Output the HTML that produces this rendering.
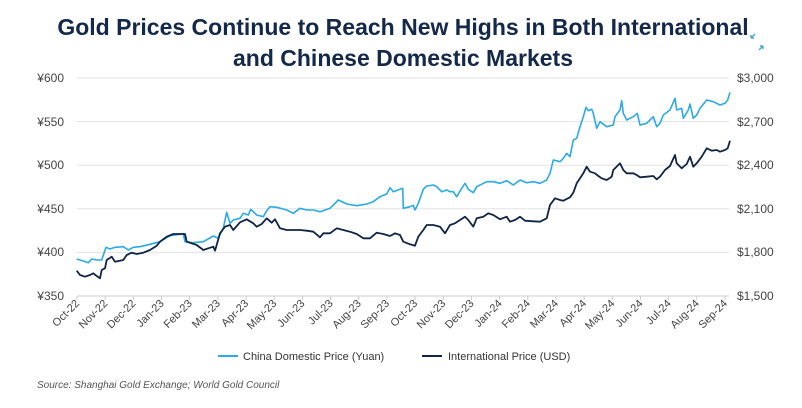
<!DOCTYPE html>
<html><head><meta charset="utf-8"><style>
body{margin:0;background:#fff;width:802px;height:403px;overflow:hidden;font-family:"Liberation Sans",sans-serif}
</style></head><body>
<svg width="802" height="403" xmlns="http://www.w3.org/2000/svg" font-family="Liberation Sans, sans-serif">
<text x="403" y="35" text-anchor="middle" font-size="23" font-weight="bold" fill="#14294a">Gold Prices Continue to Reach New Highs in Both International</text>
<text x="403" y="66" text-anchor="middle" font-size="23" font-weight="bold" fill="#14294a">and Chinese Domestic Markets</text>
<g stroke="#4aa8dc" stroke-width="1.5" fill="none"><path d="M751 38l4-4M751 38v-3M751 38h3M763 46l-4 4M763 46v3M763 46h-3" transform="translate(0,0)"/></g>
<g stroke="#e3e3e6" stroke-width="1">
<line x1="77" x2="729" y1="78" y2="78"/><line x1="77" x2="729" y1="121.6" y2="121.6"/><line x1="77" x2="729" y1="165.2" y2="165.2"/><line x1="77" x2="729" y1="208.8" y2="208.8"/><line x1="77" x2="729" y1="252.4" y2="252.4"/>
</g>
<line x1="77" x2="729" y1="296" y2="296" stroke="#ccc"/>
<g font-size="12" fill="#444" text-anchor="end">
<text x="64" y="82">¥600</text><text x="64" y="126">¥550</text><text x="64" y="169">¥500</text><text x="64" y="213">¥450</text><text x="64" y="256">¥400</text><text x="64" y="300">¥350</text>
</g>
<g font-size="12" fill="#444">
<text x="737" y="82">$3,000</text><text x="737" y="126">$2,700</text><text x="737" y="169">$2,400</text><text x="737" y="213">$2,100</text><text x="737" y="256">$1,800</text><text x="737" y="300">$1,500</text>
</g>
<g id="xt"></g>
<polyline id="lb" fill="none" stroke="#2aaae6" stroke-width="1.6" stroke-linejoin="round"/>
<polyline id="dk" fill="none" stroke="#0f2544" stroke-width="1.8" stroke-linejoin="round"/>
<line x1="218" x2="238" y1="356" y2="356" stroke="#2aaae6" stroke-width="2"/>
<text x="243" y="360" font-size="11" fill="#333">China Domestic Price (Yuan)</text>
<line x1="422" x2="442" y1="356" y2="356" stroke="#0f2544" stroke-width="2"/>
<text x="448" y="360" font-size="11" fill="#333">International Price (USD)</text>
<text x="37" y="388" font-size="10" font-style="italic" fill="#555">Source: Shanghai Gold Exchange; World Gold Council</text>
</svg>
<script>
var L1=[230,597,250,603,265,608,275,597,290,600,305,600,318,562,330,567,345,562,370,560,385,570,400,562,420,560,450,553,480,545,510,527,550,521,555,545,580,548,610,545,640,528,655,535,670,505,680,457,690,490,700,480,720,475,730,460,745,465,752,448,770,465,790,470,800,452,810,440,830,442,860,450,880,460,900,445,920,450,940,450,960,455,990,445,1015,420,1040,432,1070,437,1100,432,1120,425,1140,410,1160,402,1170,383,1180,395,1200,388];
var L2=[8,385,10,445,30,440,40,436,45,450,55,430,70,388,80,378,100,375,110,380,125,395,140,390,150,395,160,395,170,410,185,385,195,370,205,388,220,398,230,380,260,365,280,365,300,370,320,362,340,375,360,360,380,368,400,365,420,370,440,360,450,340,460,300,480,305,490,295,500,280,510,290,520,240,530,235,540,200,550,170,558,142,565,152,575,148,580,160,590,205,600,185,620,200,640,195,645,170,660,150,665,122,670,160,680,180,700,170,712,160,720,195,740,190,760,170,770,200,780,190,790,165,810,150,825,115,830,150,845,145,850,175,865,150,870,132,880,175,890,165,900,145,920,120,940,125,960,135,975,130,983,120,990,97];
var D1=[230,632,240,645,255,650,270,645,280,640,290,648,300,655,305,630,315,625,320,600,335,590,345,605,370,600,380,585,395,578,410,582,430,578,450,570,470,557,480,545,500,530,520,522,555,522,560,545,590,555,610,570,625,565,640,560,645,572,660,520,675,500,690,495,700,510,720,487,740,478,760,490,770,500,785,492,800,475,815,488,825,478,840,505,860,510,900,510,920,512,940,515,960,532,970,520,990,520,1010,505,1030,510,1050,515,1070,522,1090,535,1110,535,1130,518,1150,522,1170,528,1185,520,1200,525];
var D2=[10,545,30,553,45,557,55,530,70,510,80,495,100,495,120,500,135,520,150,495,165,490,180,480,195,470,205,480,220,500,230,475,250,470,265,460,280,465,300,478,320,470,330,485,345,480,360,470,375,482,400,484,420,485,440,475,450,435,465,415,480,420,490,422,510,412,520,398,530,370,550,340,560,320,570,335,585,340,595,348,605,355,620,360,635,350,640,330,660,310,670,330,680,340,700,340,710,345,720,352,740,350,760,348,770,358,780,350,795,330,810,318,825,285,830,310,845,325,860,312,870,290,880,320,890,310,905,290,920,265,935,272,950,270,960,275,975,270,983,265,990,242];
function pts(a,ox){var s=[];for(var i=0;i<a.length;i+=2)s.push((ox+a[i]/3).toFixed(1)+","+(60+a[i+1]/3).toFixed(1));return s.join(" ");}
document.getElementById('lb').setAttribute('points',pts(L1,0)+" "+pts(L2,400));
document.getElementById('dk').setAttribute('points',pts(D1,0)+" "+pts(D2,400));
var m=["Oct","Nov","Dec","Jan","Feb","Mar","Apr","May","Jun","Jul","Aug","Sep"];
var g=document.getElementById('xt'),h="";
for(var i=0;i<24;i++){var x=77+i*(725-77)/23;var y=(i<3?22:(i<15?23:24));var lab=m[i%12]+"-"+y;
h+='<line x1="'+x+'" x2="'+x+'" y1="296" y2="300" stroke="#ccc"/>';
h+='<text transform="translate('+(x+3)+',304) rotate(-45)" text-anchor="end" font-size="11" fill="#444">'+lab+'</text>';}
g.innerHTML=h;
</script>
</body></html>
